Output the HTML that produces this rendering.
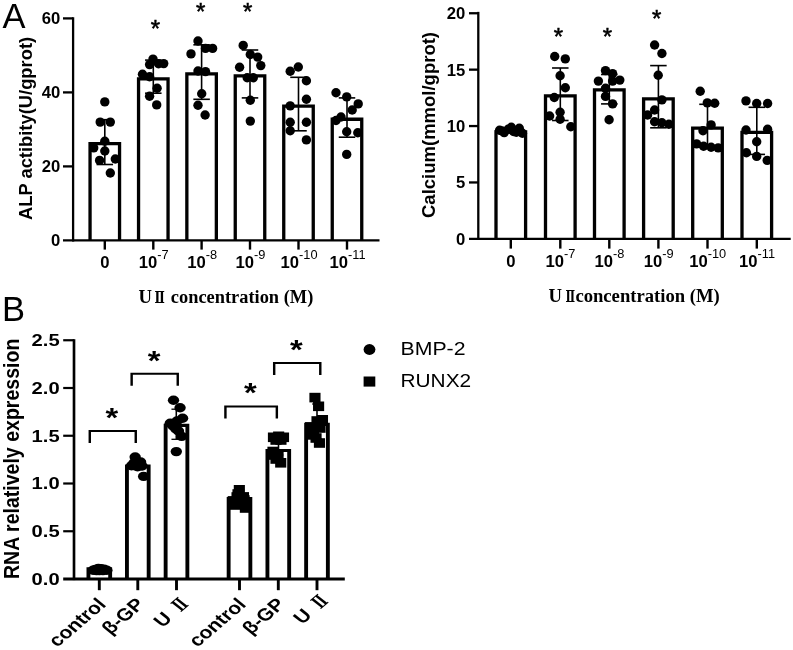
<!DOCTYPE html>
<html lang="en"><head><meta charset="utf-8"><title>Figure</title>
<style>html,body{margin:0;padding:0;background:#fff}body{width:793px;height:650px;overflow:hidden}svg text{fill:#000}</style>
</head><body>
<svg width="793" height="650" viewBox="0 0 793 650" style="display:block">
<rect width="793" height="650" fill="#fff"/>
<path d="M90.05 240.40 V143.55 H119.55 V240.40" fill="#fff" stroke="#000" stroke-width="3.3" stroke-linejoin="miter"/>
<path d="M138.55 240.40 V78.95 H168.05 V240.40" fill="#fff" stroke="#000" stroke-width="3.3" stroke-linejoin="miter"/>
<path d="M186.85 240.40 V73.85 H216.35 V240.40" fill="#fff" stroke="#000" stroke-width="3.3" stroke-linejoin="miter"/>
<path d="M235.25 240.40 V75.95 H264.75 V240.40" fill="#fff" stroke="#000" stroke-width="3.3" stroke-linejoin="miter"/>
<path d="M283.75 240.40 V106.15 H313.25 V240.40" fill="#fff" stroke="#000" stroke-width="3.3" stroke-linejoin="miter"/>
<path d="M332.25 240.40 V119.25 H361.75 V240.40" fill="#fff" stroke="#000" stroke-width="3.3" stroke-linejoin="miter"/>
<line x1="104.80" y1="119.70" x2="104.80" y2="164.50" stroke="#000" stroke-width="1.6" stroke-linecap="butt"/>
<line x1="96.55" y1="119.70" x2="113.05" y2="119.70" stroke="#000" stroke-width="1.6" stroke-linecap="butt"/>
<line x1="96.55" y1="164.50" x2="113.05" y2="164.50" stroke="#000" stroke-width="1.6" stroke-linecap="butt"/>
<line x1="153.30" y1="60.10" x2="153.30" y2="93.20" stroke="#000" stroke-width="1.6" stroke-linecap="butt"/>
<line x1="145.05" y1="60.10" x2="161.55" y2="60.10" stroke="#000" stroke-width="1.6" stroke-linecap="butt"/>
<line x1="145.05" y1="93.20" x2="161.55" y2="93.20" stroke="#000" stroke-width="1.6" stroke-linecap="butt"/>
<line x1="201.60" y1="44.80" x2="201.60" y2="99.30" stroke="#000" stroke-width="1.6" stroke-linecap="butt"/>
<line x1="193.35" y1="44.80" x2="209.85" y2="44.80" stroke="#000" stroke-width="1.6" stroke-linecap="butt"/>
<line x1="193.35" y1="99.30" x2="209.85" y2="99.30" stroke="#000" stroke-width="1.6" stroke-linecap="butt"/>
<line x1="250.00" y1="50.00" x2="250.00" y2="97.90" stroke="#000" stroke-width="1.6" stroke-linecap="butt"/>
<line x1="241.75" y1="50.00" x2="258.25" y2="50.00" stroke="#000" stroke-width="1.6" stroke-linecap="butt"/>
<line x1="241.75" y1="97.90" x2="258.25" y2="97.90" stroke="#000" stroke-width="1.6" stroke-linecap="butt"/>
<line x1="298.50" y1="77.30" x2="298.50" y2="130.80" stroke="#000" stroke-width="1.6" stroke-linecap="butt"/>
<line x1="290.25" y1="77.30" x2="306.75" y2="77.30" stroke="#000" stroke-width="1.6" stroke-linecap="butt"/>
<line x1="290.25" y1="130.80" x2="306.75" y2="130.80" stroke="#000" stroke-width="1.6" stroke-linecap="butt"/>
<line x1="347.00" y1="97.90" x2="347.00" y2="137.20" stroke="#000" stroke-width="1.6" stroke-linecap="butt"/>
<line x1="338.75" y1="97.90" x2="355.25" y2="97.90" stroke="#000" stroke-width="1.6" stroke-linecap="butt"/>
<line x1="338.75" y1="137.20" x2="355.25" y2="137.20" stroke="#000" stroke-width="1.6" stroke-linecap="butt"/>
<circle cx="104.8" cy="101.9" r="4.7" fill="#000"/>
<circle cx="100.2" cy="122.1" r="4.7" fill="#000"/>
<circle cx="110.3" cy="122.1" r="4.7" fill="#000"/>
<circle cx="104.8" cy="141.3" r="4.7" fill="#000"/>
<circle cx="93.7" cy="147.9" r="4.7" fill="#000"/>
<circle cx="104.8" cy="151.0" r="4.7" fill="#000"/>
<circle cx="99.6" cy="160.4" r="4.7" fill="#000"/>
<circle cx="115.3" cy="159.0" r="4.7" fill="#000"/>
<circle cx="110.3" cy="173.0" r="4.7" fill="#000"/>
<circle cx="153.0" cy="59.1" r="4.7" fill="#000"/>
<circle cx="149.6" cy="64.6" r="4.7" fill="#000"/>
<circle cx="158.5" cy="63.8" r="4.7" fill="#000"/>
<circle cx="163.7" cy="63.6" r="4.7" fill="#000"/>
<circle cx="142.5" cy="74.3" r="4.7" fill="#000"/>
<circle cx="149.6" cy="76.7" r="4.7" fill="#000"/>
<circle cx="157.1" cy="88.2" r="4.7" fill="#000"/>
<circle cx="149.6" cy="96.2" r="4.7" fill="#000"/>
<circle cx="156.7" cy="104.9" r="4.7" fill="#000"/>
<circle cx="198.0" cy="41.0" r="4.7" fill="#000"/>
<circle cx="205.5" cy="48.4" r="4.7" fill="#000"/>
<circle cx="212.6" cy="48.4" r="4.7" fill="#000"/>
<circle cx="191.0" cy="53.9" r="4.7" fill="#000"/>
<circle cx="198.0" cy="71.0" r="4.7" fill="#000"/>
<circle cx="205.5" cy="71.6" r="4.7" fill="#000"/>
<circle cx="201.7" cy="93.8" r="4.7" fill="#000"/>
<circle cx="198.0" cy="105.3" r="4.7" fill="#000"/>
<circle cx="205.1" cy="115.0" r="4.7" fill="#000"/>
<circle cx="243.2" cy="45.4" r="4.7" fill="#000"/>
<circle cx="250.3" cy="54.5" r="4.7" fill="#000"/>
<circle cx="257.7" cy="57.1" r="4.7" fill="#000"/>
<circle cx="239.6" cy="67.2" r="4.7" fill="#000"/>
<circle cx="260.8" cy="65.6" r="4.7" fill="#000"/>
<circle cx="247.2" cy="77.7" r="4.7" fill="#000"/>
<circle cx="253.3" cy="77.7" r="4.7" fill="#000"/>
<circle cx="250.3" cy="100.3" r="4.7" fill="#000"/>
<circle cx="250.3" cy="121.1" r="4.7" fill="#000"/>
<circle cx="298.3" cy="67.0" r="4.7" fill="#000"/>
<circle cx="290.2" cy="71.2" r="4.7" fill="#000"/>
<circle cx="306.4" cy="80.7" r="4.7" fill="#000"/>
<circle cx="306.4" cy="99.3" r="4.7" fill="#000"/>
<circle cx="290.2" cy="105.9" r="4.7" fill="#000"/>
<circle cx="290.2" cy="122.3" r="4.7" fill="#000"/>
<circle cx="306.4" cy="122.3" r="4.7" fill="#000"/>
<circle cx="290.2" cy="130.8" r="4.7" fill="#000"/>
<circle cx="306.4" cy="139.9" r="4.7" fill="#000"/>
<circle cx="336.0" cy="92.8" r="4.7" fill="#000"/>
<circle cx="346.7" cy="96.9" r="4.7" fill="#000"/>
<circle cx="358.2" cy="103.9" r="4.7" fill="#000"/>
<circle cx="352.2" cy="110.0" r="4.7" fill="#000"/>
<circle cx="341.0" cy="117.0" r="4.7" fill="#000"/>
<circle cx="336.0" cy="120.5" r="4.7" fill="#000"/>
<circle cx="346.7" cy="131.8" r="4.7" fill="#000"/>
<circle cx="357.8" cy="132.8" r="4.7" fill="#000"/>
<circle cx="346.7" cy="154.4" r="4.7" fill="#000"/>
<line x1="73.10" y1="17.25" x2="73.10" y2="241.55" stroke="#000" stroke-width="2.3" stroke-linecap="butt"/>
<line x1="63.00" y1="240.40" x2="379.50" y2="240.40" stroke="#000" stroke-width="2.3" stroke-linecap="butt"/>
<text x="60.30" y="246.30" font-family='"Liberation Sans", sans-serif' font-size="16.67" font-weight="bold" text-anchor="end" >0</text>
<line x1="63.00" y1="166.40" x2="73.10" y2="166.40" stroke="#000" stroke-width="2.3" stroke-linecap="butt"/>
<text x="60.30" y="172.30" font-family='"Liberation Sans", sans-serif' font-size="16.67" font-weight="bold" text-anchor="end" >20</text>
<line x1="63.00" y1="92.40" x2="73.10" y2="92.40" stroke="#000" stroke-width="2.3" stroke-linecap="butt"/>
<text x="60.30" y="98.30" font-family='"Liberation Sans", sans-serif' font-size="16.67" font-weight="bold" text-anchor="end" >40</text>
<line x1="63.00" y1="18.40" x2="73.10" y2="18.40" stroke="#000" stroke-width="2.3" stroke-linecap="butt"/>
<text x="60.30" y="24.30" font-family='"Liberation Sans", sans-serif' font-size="16.67" font-weight="bold" text-anchor="end" >60</text>
<line x1="104.80" y1="240.40" x2="104.80" y2="249.60" stroke="#000" stroke-width="2.4" stroke-linecap="butt"/>
<text x="104.80" y="268.00" font-family='"Liberation Sans", sans-serif' font-size="16.67" font-weight="bold" text-anchor="middle" >0</text>
<line x1="153.30" y1="240.40" x2="153.30" y2="249.60" stroke="#000" stroke-width="2.4" stroke-linecap="butt"/>
<text x="153.80" y="268.00" font-family='"Liberation Sans", sans-serif' font-size="16.67" font-weight="bold" text-anchor="middle">10<tspan dy="-8.7" font-size="12.8" font-weight="normal">-7</tspan></text>
<line x1="201.60" y1="240.40" x2="201.60" y2="249.60" stroke="#000" stroke-width="2.4" stroke-linecap="butt"/>
<text x="202.10" y="268.00" font-family='"Liberation Sans", sans-serif' font-size="16.67" font-weight="bold" text-anchor="middle">10<tspan dy="-8.7" font-size="12.8" font-weight="normal">-8</tspan></text>
<line x1="250.00" y1="240.40" x2="250.00" y2="249.60" stroke="#000" stroke-width="2.4" stroke-linecap="butt"/>
<text x="250.50" y="268.00" font-family='"Liberation Sans", sans-serif' font-size="16.67" font-weight="bold" text-anchor="middle">10<tspan dy="-8.7" font-size="12.8" font-weight="normal">-9</tspan></text>
<line x1="298.50" y1="240.40" x2="298.50" y2="249.60" stroke="#000" stroke-width="2.4" stroke-linecap="butt"/>
<text x="299.00" y="268.00" font-family='"Liberation Sans", sans-serif' font-size="16.67" font-weight="bold" text-anchor="middle">10<tspan dy="-8.7" font-size="12.8" font-weight="normal">-10</tspan></text>
<line x1="347.00" y1="240.40" x2="347.00" y2="249.60" stroke="#000" stroke-width="2.4" stroke-linecap="butt"/>
<text x="347.50" y="268.00" font-family='"Liberation Sans", sans-serif' font-size="16.67" font-weight="bold" text-anchor="middle">10<tspan dy="-8.7" font-size="12.8" font-weight="normal">-11</tspan></text>
<text x="155.30" y="37.00" font-family='"Liberation Sans", sans-serif' font-size="24" font-weight="normal" text-anchor="middle" stroke="#000" stroke-width="0.55">*</text>
<text x="200.70" y="19.50" font-family='"Liberation Sans", sans-serif' font-size="24" font-weight="normal" text-anchor="middle" stroke="#000" stroke-width="0.55">*</text>
<text x="247.60" y="19.90" font-family='"Liberation Sans", sans-serif' font-size="24" font-weight="normal" text-anchor="middle" stroke="#000" stroke-width="0.55">*</text>
<path d="M496.00 238.85 V131.85 H525.60 V238.85" fill="#fff" stroke="#000" stroke-width="3.3" stroke-linejoin="miter"/>
<path d="M545.50 238.85 V95.85 H575.10 V238.85" fill="#fff" stroke="#000" stroke-width="3.3" stroke-linejoin="miter"/>
<path d="M594.50 238.85 V89.85 H624.10 V238.85" fill="#fff" stroke="#000" stroke-width="3.3" stroke-linejoin="miter"/>
<path d="M643.60 238.85 V98.95 H673.20 V238.85" fill="#fff" stroke="#000" stroke-width="3.3" stroke-linejoin="miter"/>
<path d="M692.70 238.85 V128.15 H722.30 V238.85" fill="#fff" stroke="#000" stroke-width="3.3" stroke-linejoin="miter"/>
<path d="M742.00 238.85 V132.45 H771.60 V238.85" fill="#fff" stroke="#000" stroke-width="3.3" stroke-linejoin="miter"/>
<line x1="510.80" y1="129.50" x2="510.80" y2="132.50" stroke="#000" stroke-width="1.6" stroke-linecap="butt"/>
<line x1="502.55" y1="129.50" x2="519.05" y2="129.50" stroke="#000" stroke-width="1.6" stroke-linecap="butt"/>
<line x1="502.55" y1="132.50" x2="519.05" y2="132.50" stroke="#000" stroke-width="1.6" stroke-linecap="butt"/>
<line x1="560.30" y1="68.00" x2="560.30" y2="120.50" stroke="#000" stroke-width="1.6" stroke-linecap="butt"/>
<line x1="552.05" y1="68.00" x2="568.55" y2="68.00" stroke="#000" stroke-width="1.6" stroke-linecap="butt"/>
<line x1="552.05" y1="120.50" x2="568.55" y2="120.50" stroke="#000" stroke-width="1.6" stroke-linecap="butt"/>
<line x1="609.30" y1="74.50" x2="609.30" y2="103.90" stroke="#000" stroke-width="1.6" stroke-linecap="butt"/>
<line x1="601.05" y1="74.50" x2="617.55" y2="74.50" stroke="#000" stroke-width="1.6" stroke-linecap="butt"/>
<line x1="601.05" y1="103.90" x2="617.55" y2="103.90" stroke="#000" stroke-width="1.6" stroke-linecap="butt"/>
<line x1="658.40" y1="65.60" x2="658.40" y2="127.80" stroke="#000" stroke-width="1.6" stroke-linecap="butt"/>
<line x1="650.15" y1="65.60" x2="666.65" y2="65.60" stroke="#000" stroke-width="1.6" stroke-linecap="butt"/>
<line x1="650.15" y1="127.80" x2="666.65" y2="127.80" stroke="#000" stroke-width="1.6" stroke-linecap="butt"/>
<line x1="707.50" y1="104.30" x2="707.50" y2="147.30" stroke="#000" stroke-width="1.6" stroke-linecap="butt"/>
<line x1="699.25" y1="104.30" x2="715.75" y2="104.30" stroke="#000" stroke-width="1.6" stroke-linecap="butt"/>
<line x1="699.25" y1="147.30" x2="715.75" y2="147.30" stroke="#000" stroke-width="1.6" stroke-linecap="butt"/>
<line x1="756.80" y1="107.30" x2="756.80" y2="154.40" stroke="#000" stroke-width="1.6" stroke-linecap="butt"/>
<line x1="748.55" y1="107.30" x2="765.05" y2="107.30" stroke="#000" stroke-width="1.6" stroke-linecap="butt"/>
<line x1="748.55" y1="154.40" x2="765.05" y2="154.40" stroke="#000" stroke-width="1.6" stroke-linecap="butt"/>
<circle cx="499.6" cy="130.2" r="4.7" fill="#000"/>
<circle cx="504.2" cy="132.6" r="4.7" fill="#000"/>
<circle cx="508.2" cy="129.2" r="4.7" fill="#000"/>
<circle cx="511.3" cy="127.2" r="4.7" fill="#000"/>
<circle cx="516.3" cy="132.2" r="4.7" fill="#000"/>
<circle cx="519.3" cy="128.2" r="4.7" fill="#000"/>
<circle cx="522.4" cy="133.2" r="4.7" fill="#000"/>
<circle cx="513.5" cy="131.5" r="4.7" fill="#000"/>
<circle cx="502.0" cy="131.0" r="4.7" fill="#000"/>
<circle cx="554.7" cy="56.5" r="4.7" fill="#000"/>
<circle cx="565.3" cy="58.9" r="4.7" fill="#000"/>
<circle cx="560.1" cy="75.7" r="4.7" fill="#000"/>
<circle cx="565.3" cy="87.8" r="4.7" fill="#000"/>
<circle cx="554.3" cy="97.5" r="4.7" fill="#000"/>
<circle cx="560.1" cy="112.3" r="4.7" fill="#000"/>
<circle cx="549.6" cy="116.0" r="4.7" fill="#000"/>
<circle cx="560.1" cy="119.3" r="4.7" fill="#000"/>
<circle cx="570.8" cy="126.7" r="4.7" fill="#000"/>
<circle cx="605.5" cy="70.6" r="4.7" fill="#000"/>
<circle cx="612.6" cy="73.6" r="4.7" fill="#000"/>
<circle cx="598.4" cy="81.1" r="4.7" fill="#000"/>
<circle cx="612.6" cy="81.1" r="4.7" fill="#000"/>
<circle cx="619.8" cy="80.1" r="4.7" fill="#000"/>
<circle cx="605.5" cy="88.2" r="4.7" fill="#000"/>
<circle cx="605.5" cy="96.4" r="4.7" fill="#000"/>
<circle cx="612.6" cy="103.9" r="4.7" fill="#000"/>
<circle cx="609.1" cy="119.7" r="4.7" fill="#000"/>
<circle cx="654.6" cy="45.0" r="4.7" fill="#000"/>
<circle cx="661.9" cy="53.5" r="4.7" fill="#000"/>
<circle cx="658.2" cy="75.3" r="4.7" fill="#000"/>
<circle cx="661.9" cy="99.9" r="4.7" fill="#000"/>
<circle cx="654.6" cy="110.0" r="4.7" fill="#000"/>
<circle cx="647.6" cy="115.0" r="4.7" fill="#000"/>
<circle cx="654.6" cy="121.7" r="4.7" fill="#000"/>
<circle cx="661.9" cy="122.8" r="4.7" fill="#000"/>
<circle cx="668.9" cy="124.3" r="4.7" fill="#000"/>
<circle cx="700.2" cy="91.2" r="4.7" fill="#000"/>
<circle cx="707.3" cy="102.9" r="4.7" fill="#000"/>
<circle cx="714.7" cy="103.3" r="4.7" fill="#000"/>
<circle cx="711.1" cy="124.9" r="4.7" fill="#000"/>
<circle cx="703.0" cy="130.8" r="4.7" fill="#000"/>
<circle cx="696.6" cy="143.9" r="4.7" fill="#000"/>
<circle cx="703.6" cy="146.3" r="4.7" fill="#000"/>
<circle cx="711.1" cy="147.3" r="4.7" fill="#000"/>
<circle cx="718.2" cy="147.9" r="4.7" fill="#000"/>
<circle cx="746.0" cy="100.9" r="4.7" fill="#000"/>
<circle cx="756.7" cy="103.5" r="4.7" fill="#000"/>
<circle cx="767.6" cy="103.5" r="4.7" fill="#000"/>
<circle cx="746.0" cy="130.0" r="4.7" fill="#000"/>
<circle cx="767.6" cy="129.2" r="4.7" fill="#000"/>
<circle cx="756.7" cy="141.7" r="4.7" fill="#000"/>
<circle cx="746.4" cy="152.8" r="4.7" fill="#000"/>
<circle cx="756.7" cy="156.4" r="4.7" fill="#000"/>
<circle cx="767.2" cy="160.4" r="4.7" fill="#000"/>
<line x1="478.30" y1="11.85" x2="478.30" y2="240.00" stroke="#000" stroke-width="2.3" stroke-linecap="butt"/>
<line x1="469.00" y1="238.85" x2="790.70" y2="238.85" stroke="#000" stroke-width="2.3" stroke-linecap="butt"/>
<text x="465.30" y="244.75" font-family='"Liberation Sans", sans-serif' font-size="16.67" font-weight="bold" text-anchor="end" >0</text>
<line x1="469.00" y1="182.45" x2="478.30" y2="182.45" stroke="#000" stroke-width="2.3" stroke-linecap="butt"/>
<text x="465.30" y="188.35" font-family='"Liberation Sans", sans-serif' font-size="16.67" font-weight="bold" text-anchor="end" >5</text>
<line x1="469.00" y1="126.05" x2="478.30" y2="126.05" stroke="#000" stroke-width="2.3" stroke-linecap="butt"/>
<text x="465.30" y="131.95" font-family='"Liberation Sans", sans-serif' font-size="16.67" font-weight="bold" text-anchor="end" >10</text>
<line x1="469.00" y1="69.65" x2="478.30" y2="69.65" stroke="#000" stroke-width="2.3" stroke-linecap="butt"/>
<text x="465.30" y="75.55" font-family='"Liberation Sans", sans-serif' font-size="16.67" font-weight="bold" text-anchor="end" >15</text>
<line x1="469.00" y1="13.25" x2="478.30" y2="13.25" stroke="#000" stroke-width="2.3" stroke-linecap="butt"/>
<text x="465.30" y="19.15" font-family='"Liberation Sans", sans-serif' font-size="16.67" font-weight="bold" text-anchor="end" >20</text>
<line x1="510.80" y1="238.85" x2="510.80" y2="248.60" stroke="#000" stroke-width="2.4" stroke-linecap="butt"/>
<text x="510.80" y="266.50" font-family='"Liberation Sans", sans-serif' font-size="16.67" font-weight="bold" text-anchor="middle" >0</text>
<line x1="560.30" y1="238.85" x2="560.30" y2="248.60" stroke="#000" stroke-width="2.4" stroke-linecap="butt"/>
<text x="560.50" y="266.50" font-family='"Liberation Sans", sans-serif' font-size="16.67" font-weight="bold" text-anchor="middle">10<tspan dy="-8.7" font-size="12.8" font-weight="normal">-7</tspan></text>
<line x1="609.30" y1="238.85" x2="609.30" y2="248.60" stroke="#000" stroke-width="2.4" stroke-linecap="butt"/>
<text x="609.50" y="266.50" font-family='"Liberation Sans", sans-serif' font-size="16.67" font-weight="bold" text-anchor="middle">10<tspan dy="-8.7" font-size="12.8" font-weight="normal">-8</tspan></text>
<line x1="658.40" y1="238.85" x2="658.40" y2="248.60" stroke="#000" stroke-width="2.4" stroke-linecap="butt"/>
<text x="658.60" y="266.50" font-family='"Liberation Sans", sans-serif' font-size="16.67" font-weight="bold" text-anchor="middle">10<tspan dy="-8.7" font-size="12.8" font-weight="normal">-9</tspan></text>
<line x1="707.50" y1="238.85" x2="707.50" y2="248.60" stroke="#000" stroke-width="2.4" stroke-linecap="butt"/>
<text x="707.70" y="266.50" font-family='"Liberation Sans", sans-serif' font-size="16.67" font-weight="bold" text-anchor="middle">10<tspan dy="-8.7" font-size="12.8" font-weight="normal">-10</tspan></text>
<line x1="756.80" y1="238.85" x2="756.80" y2="248.60" stroke="#000" stroke-width="2.4" stroke-linecap="butt"/>
<text x="757.00" y="266.50" font-family='"Liberation Sans", sans-serif' font-size="16.67" font-weight="bold" text-anchor="middle">10<tspan dy="-8.7" font-size="12.8" font-weight="normal">-11</tspan></text>
<text x="558.30" y="44.90" font-family='"Liberation Sans", sans-serif' font-size="24" font-weight="normal" text-anchor="middle" stroke="#000" stroke-width="0.55">*</text>
<text x="607.50" y="44.90" font-family='"Liberation Sans", sans-serif' font-size="24" font-weight="normal" text-anchor="middle" stroke="#000" stroke-width="0.55">*</text>
<text x="656.60" y="26.70" font-family='"Liberation Sans", sans-serif' font-size="24" font-weight="normal" text-anchor="middle" stroke="#000" stroke-width="0.55">*</text>
<text x="2.40" y="27.90" font-family='"Liberation Sans", sans-serif' font-size="34.5" font-weight="normal" text-anchor="start" >A</text>
<text x="2.10" y="320.70" font-family='"Liberation Sans", sans-serif' font-size="34.5" font-weight="normal" text-anchor="start" >B</text>
<text transform="translate(32,220) rotate(-90)" font-family='"Liberation Sans", sans-serif' font-size="18.35" font-weight="bold">ALP actibity(U/gprot)</text>
<text transform="translate(435.2,218) rotate(-90)" font-family='"Liberation Sans", sans-serif' font-size="18.5" font-weight="bold">Calcium(mmol/gprot)</text>
<text y="302.6" font-family='"Liberation Serif", "Noto Serif CJK SC", serif' font-size="18.67" font-weight="bold"><tspan x="138.5">U</tspan> <tspan x="154.6" font-family='"DejaVu Serif", "Noto Serif CJK SC", serif' font-size="16.4" textLength="10.3" lengthAdjust="spacingAndGlyphs">Ⅱ</tspan> <tspan x="170.8" textLength="142.5" lengthAdjust="spacingAndGlyphs">concentration (M)</tspan></text>
<text y="302.0" font-family='"Liberation Serif", "Noto Serif CJK SC", serif' font-size="18.67" font-weight="bold"><tspan x="548.6">U</tspan> <tspan x="565.5" font-family='"DejaVu Serif", "Noto Serif CJK SC", serif' font-size="16.4" textLength="9.6" lengthAdjust="spacingAndGlyphs">Ⅱ</tspan><tspan x="575.4" textLength="144.4" lengthAdjust="spacingAndGlyphs">concentration (M)</tspan></text>
<g transform="scale(1.21,1)">
<path d="M73.09 579.00 V568.90 H91.04 V579.00" fill="#fff" stroke="#000" stroke-width="3.2" stroke-linejoin="miter"/>
<path d="M104.91 579.00 V466.20 H122.86 V579.00" fill="#fff" stroke="#000" stroke-width="3.2" stroke-linejoin="miter"/>
<path d="M136.89 579.00 V425.30 H154.85 V579.00" fill="#fff" stroke="#000" stroke-width="3.2" stroke-linejoin="miter"/>
<path d="M188.96 579.00 V498.50 H206.91 V579.00" fill="#fff" stroke="#000" stroke-width="3.2" stroke-linejoin="miter"/>
<path d="M221.02 579.00 V450.50 H238.98 V579.00" fill="#fff" stroke="#000" stroke-width="3.2" stroke-linejoin="miter"/>
<path d="M253.00 579.00 V424.30 H270.96 V579.00" fill="#fff" stroke="#000" stroke-width="3.2" stroke-linejoin="miter"/>
<line x1="145.70" y1="409.20" x2="145.70" y2="439.30" stroke="#000" stroke-width="1.3" stroke-linecap="butt"/>
<line x1="141.70" y1="409.20" x2="149.70" y2="409.20" stroke="#000" stroke-width="1.3" stroke-linecap="butt"/>
<line x1="141.70" y1="439.30" x2="149.70" y2="439.30" stroke="#000" stroke-width="1.3" stroke-linecap="butt"/>
<line x1="113.88" y1="460.50" x2="113.88" y2="469.50" stroke="#000" stroke-width="1.3" stroke-linecap="butt"/>
<line x1="109.88" y1="460.50" x2="117.88" y2="460.50" stroke="#000" stroke-width="1.3" stroke-linecap="butt"/>
<line x1="109.88" y1="469.50" x2="117.88" y2="469.50" stroke="#000" stroke-width="1.3" stroke-linecap="butt"/>
<line x1="230.17" y1="441.00" x2="230.17" y2="455.00" stroke="#000" stroke-width="1.3" stroke-linecap="butt"/>
<line x1="226.17" y1="441.00" x2="234.17" y2="441.00" stroke="#000" stroke-width="1.3" stroke-linecap="butt"/>
<line x1="226.17" y1="455.00" x2="234.17" y2="455.00" stroke="#000" stroke-width="1.3" stroke-linecap="butt"/>
<line x1="261.98" y1="404.00" x2="261.98" y2="439.00" stroke="#000" stroke-width="1.3" stroke-linecap="butt"/>
<line x1="257.98" y1="404.00" x2="265.98" y2="404.00" stroke="#000" stroke-width="1.3" stroke-linecap="butt"/>
<line x1="257.98" y1="439.00" x2="265.98" y2="439.00" stroke="#000" stroke-width="1.3" stroke-linecap="butt"/>
<line x1="197.93" y1="490.00" x2="197.93" y2="505.00" stroke="#000" stroke-width="1.3" stroke-linecap="butt"/>
<line x1="193.93" y1="490.00" x2="201.93" y2="490.00" stroke="#000" stroke-width="1.3" stroke-linecap="butt"/>
<line x1="193.93" y1="505.00" x2="201.93" y2="505.00" stroke="#000" stroke-width="1.3" stroke-linecap="butt"/>
<circle cx="76.9" cy="570.3" r="4.7" fill="#000"/>
<circle cx="78.9" cy="569.4" r="4.7" fill="#000"/>
<circle cx="81.3" cy="568.4" r="4.7" fill="#000"/>
<circle cx="83.5" cy="568.8" r="4.7" fill="#000"/>
<circle cx="86.0" cy="569.2" r="4.7" fill="#000"/>
<circle cx="88.3" cy="570.3" r="4.7" fill="#000"/>
<circle cx="82.2" cy="570.6" r="4.7" fill="#000"/>
<circle cx="79.8" cy="570.6" r="4.7" fill="#000"/>
<circle cx="85.1" cy="570.6" r="4.7" fill="#000"/>
<circle cx="111.7" cy="457.0" r="4.7" fill="#000"/>
<circle cx="116.2" cy="462.0" r="4.7" fill="#000"/>
<circle cx="108.7" cy="465.7" r="4.7" fill="#000"/>
<circle cx="113.7" cy="466.7" r="4.7" fill="#000"/>
<circle cx="118.7" cy="476.4" r="4.7" fill="#000"/>
<circle cx="110.7" cy="463.0" r="4.7" fill="#000"/>
<circle cx="114.9" cy="464.5" r="4.7" fill="#000"/>
<circle cx="117.4" cy="466.0" r="4.7" fill="#000"/>
<circle cx="112.4" cy="461.0" r="4.7" fill="#000"/>
<circle cx="143.4" cy="400.2" r="4.7" fill="#000"/>
<circle cx="148.8" cy="407.8" r="4.7" fill="#000"/>
<circle cx="150.9" cy="418.2" r="4.7" fill="#000"/>
<circle cx="140.7" cy="423.3" r="4.7" fill="#000"/>
<circle cx="145.4" cy="428.9" r="4.7" fill="#000"/>
<circle cx="150.1" cy="436.4" r="4.7" fill="#000"/>
<circle cx="145.7" cy="451.6" r="4.7" fill="#000"/>
<circle cx="143.0" cy="426.0" r="4.7" fill="#000"/>
<circle cx="147.5" cy="431.0" r="4.7" fill="#000"/>
<circle cx="146.3" cy="421.0" r="4.7" fill="#000"/>
<rect x="193.2" y="485.0" width="9.2" height="9.6" fill="#000"/>
<rect x="196.6" y="492.1" width="9.2" height="9.6" fill="#000"/>
<rect x="188.2" y="496.1" width="9.2" height="9.6" fill="#000"/>
<rect x="198.2" y="503.2" width="9.2" height="9.6" fill="#000"/>
<rect x="191.3" y="492.2" width="9.2" height="9.6" fill="#000"/>
<rect x="194.6" y="498.2" width="9.2" height="9.6" fill="#000"/>
<rect x="190.0" y="500.2" width="9.2" height="9.6" fill="#000"/>
<rect x="197.1" y="495.2" width="9.2" height="9.6" fill="#000"/>
<rect x="192.1" y="489.2" width="9.2" height="9.6" fill="#000"/>
<rect x="221.4" y="432.5" width="9.2" height="9.6" fill="#000"/>
<rect x="225.7" y="431.5" width="9.2" height="9.6" fill="#000"/>
<rect x="229.7" y="432.5" width="9.2" height="9.6" fill="#000"/>
<rect x="223.5" y="435.2" width="9.2" height="9.6" fill="#000"/>
<rect x="227.6" y="435.2" width="9.2" height="9.6" fill="#000"/>
<rect x="220.0" y="450.2" width="9.2" height="9.6" fill="#000"/>
<rect x="225.2" y="450.7" width="9.2" height="9.6" fill="#000"/>
<rect x="227.4" y="458.0" width="9.2" height="9.6" fill="#000"/>
<rect x="223.5" y="454.2" width="9.2" height="9.6" fill="#000"/>
<rect x="221.0" y="446.7" width="9.2" height="9.6" fill="#000"/>
<rect x="255.7" y="392.8" width="9.2" height="9.6" fill="#000"/>
<rect x="258.7" y="401.5" width="9.2" height="9.6" fill="#000"/>
<rect x="261.9" y="415.0" width="9.2" height="9.6" fill="#000"/>
<rect x="252.1" y="422.1" width="9.2" height="9.6" fill="#000"/>
<rect x="254.5" y="430.1" width="9.2" height="9.6" fill="#000"/>
<rect x="259.4" y="438.2" width="9.2" height="9.6" fill="#000"/>
<rect x="257.4" y="416.2" width="9.2" height="9.6" fill="#000"/>
<rect x="259.9" y="423.2" width="9.2" height="9.6" fill="#000"/>
<rect x="253.3" y="426.2" width="9.2" height="9.6" fill="#000"/>
<rect x="256.6" y="433.2" width="9.2" height="9.6" fill="#000"/>
<line x1="61.16" y1="339.20" x2="61.16" y2="580.10" stroke="#000" stroke-width="2.2" stroke-linecap="butt"/>
<line x1="52.23" y1="579.00" x2="284.96" y2="579.00" stroke="#000" stroke-width="2.8" stroke-linecap="butt"/>
<text x="49.26" y="585.00" font-family='"Liberation Sans", sans-serif' font-size="16.67" font-weight="bold" text-anchor="end" >0.0</text>
<line x1="52.23" y1="531.25" x2="61.16" y2="531.25" stroke="#000" stroke-width="2.2" stroke-linecap="butt"/>
<text x="49.26" y="537.25" font-family='"Liberation Sans", sans-serif' font-size="16.67" font-weight="bold" text-anchor="end" >0.5</text>
<line x1="52.23" y1="483.50" x2="61.16" y2="483.50" stroke="#000" stroke-width="2.2" stroke-linecap="butt"/>
<text x="49.26" y="489.50" font-family='"Liberation Sans", sans-serif' font-size="16.67" font-weight="bold" text-anchor="end" >1.0</text>
<line x1="52.23" y1="435.75" x2="61.16" y2="435.75" stroke="#000" stroke-width="2.2" stroke-linecap="butt"/>
<text x="49.26" y="441.75" font-family='"Liberation Sans", sans-serif' font-size="16.67" font-weight="bold" text-anchor="end" >1.5</text>
<line x1="52.23" y1="388.00" x2="61.16" y2="388.00" stroke="#000" stroke-width="2.2" stroke-linecap="butt"/>
<text x="49.26" y="394.00" font-family='"Liberation Sans", sans-serif' font-size="16.67" font-weight="bold" text-anchor="end" >2.0</text>
<line x1="52.23" y1="340.25" x2="61.16" y2="340.25" stroke="#000" stroke-width="2.2" stroke-linecap="butt"/>
<text x="49.26" y="346.25" font-family='"Liberation Sans", sans-serif' font-size="16.67" font-weight="bold" text-anchor="end" >2.5</text>
<line x1="82.07" y1="579.00" x2="82.07" y2="590.20" stroke="#000" stroke-width="2.4" stroke-linecap="butt"/>
<line x1="113.88" y1="579.00" x2="113.88" y2="590.20" stroke="#000" stroke-width="2.4" stroke-linecap="butt"/>
<line x1="145.87" y1="579.00" x2="145.87" y2="590.20" stroke="#000" stroke-width="2.4" stroke-linecap="butt"/>
<line x1="197.93" y1="579.00" x2="197.93" y2="590.20" stroke="#000" stroke-width="2.4" stroke-linecap="butt"/>
<line x1="230.00" y1="579.00" x2="230.00" y2="590.20" stroke="#000" stroke-width="2.4" stroke-linecap="butt"/>
<line x1="261.98" y1="579.00" x2="261.98" y2="590.20" stroke="#000" stroke-width="2.4" stroke-linecap="butt"/>
<text transform="translate(88.5,605.2) rotate(-46)" font-family='"Liberation Sans", sans-serif' font-size="17.5" font-weight="bold" text-anchor="end">control</text>
<text transform="translate(120.3,605.2) rotate(-46)" font-family='"Liberation Sans", sans-serif' font-size="17.5" font-weight="bold" text-anchor="end">β-GP</text>
<text transform="translate(156.5,605.2) rotate(-46)" font-family='"Liberation Sans", sans-serif' font-size="17.5" font-weight="bold" text-anchor="end">U <tspan font-family='"DejaVu Serif", "Noto Serif CJK SC", serif' font-weight="bold" font-size="17.5" dx="4.2" textLength="10.3" lengthAdjust="spacingAndGlyphs">Ⅱ</tspan></text>
<text transform="translate(204.3,605.2) rotate(-46)" font-family='"Liberation Sans", sans-serif' font-size="17.5" font-weight="bold" text-anchor="end">control</text>
<text transform="translate(236.4,605.2) rotate(-46)" font-family='"Liberation Sans", sans-serif' font-size="17.5" font-weight="bold" text-anchor="end">β-GP</text>
<text transform="translate(272.0,602.0) rotate(-46)" font-family='"Liberation Sans", sans-serif' font-size="17.5" font-weight="bold" text-anchor="end">U <tspan font-family='"DejaVu Serif", "Noto Serif CJK SC", serif' font-weight="bold" font-size="17.5" dx="4.2" textLength="10.3" lengthAdjust="spacingAndGlyphs">Ⅱ</tspan></text>
<path d="M74.2 443.0 V431.0 H112.2 V443.0" fill="none" stroke="#000" stroke-width="2.0"/>
<path d="M108.8 385.7 V373.7 H146.9 V385.7" fill="none" stroke="#000" stroke-width="2.0"/>
<path d="M186.3 418.4 V406.4 H228.8 V418.4" fill="none" stroke="#000" stroke-width="2.0"/>
<path d="M226.6 375.0 V363.0 H264.7 V375.0" fill="none" stroke="#000" stroke-width="2.0"/>
<text x="92.56" y="427.30" font-family='"Liberation Sans", sans-serif' font-size="27" font-weight="bold" text-anchor="middle" >*</text>
<text x="127.36" y="369.80" font-family='"Liberation Sans", sans-serif' font-size="27" font-weight="bold" text-anchor="middle" >*</text>
<text x="206.94" y="402.10" font-family='"Liberation Sans", sans-serif' font-size="27" font-weight="bold" text-anchor="middle" >*</text>
<text x="244.96" y="359.10" font-family='"Liberation Sans", sans-serif' font-size="27" font-weight="bold" text-anchor="middle" >*</text>
</g>
<text transform="translate(19.0,579.0) rotate(-90) scale(1,1.13)" font-family='"Liberation Sans", sans-serif' font-size="19.55" font-weight="bold">RNA relatively expression</text>
<ellipse cx="369.5" cy="349.5" rx="5.9" ry="5.4" fill="#000"/>
<rect x="363.6" y="376.5" width="11.7" height="10.1" fill="#000"/>
<text x="400.5" y="355.3" font-family='"Liberation Sans", sans-serif' font-size="17.7" font-weight="normal" textLength="65" lengthAdjust="spacingAndGlyphs">BMP-2</text>
<text x="400.5" y="387" font-family='"Liberation Sans", sans-serif' font-size="17.7" font-weight="normal" textLength="70.7" lengthAdjust="spacingAndGlyphs">RUNX2</text>
</svg>
</body></html>
